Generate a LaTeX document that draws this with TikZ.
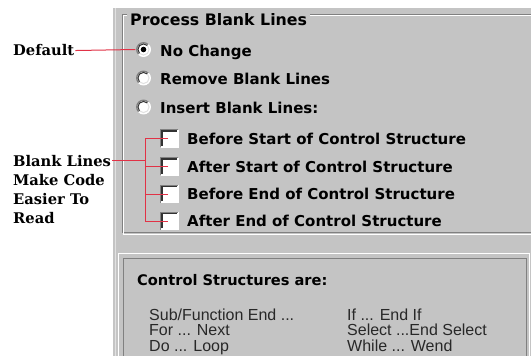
\documentclass[tikz,border=0pt]{standalone}
\usepackage{fontspec}
\setmainfont{DejaVu Sans}
\newfontfamily\dlgfont{DejaVu Sans}
\newfontfamily\lblfont{DejaVu Serif}
\newfontfamily\itmfont{Liberation Sans}
\definecolor{winbg}{RGB}{196,196,196}
\definecolor{shadow}{RGB}{128,128,128}
\definecolor{darkshadow}{RGB}{50,50,50}
\definecolor{lightface}{RGB}{225,225,225}
\definecolor{linkred}{RGB}{225,50,70}
\definecolor{itemgray}{RGB}{40,40,40}
\tikzset{
  dlgtext/.style={font=\dlgfont\bfseries\fontsize{15}{18}\selectfont, inner sep=0pt, anchor=base west, text=black},
  lbltext/.style={font=\lblfont\bfseries\fontsize{14.7}{19}\selectfont, inner sep=0pt, anchor=base west, text=black},
  itmtext/.style={font=\itmfont\fontsize{16}{16}\selectfont, inner sep=0pt, anchor=base west, text=itemgray},
  radiobtn/.style={circle, minimum size=14pt, inner sep=0pt, fill=white},
  checkbx/.style={rectangle, minimum size=17pt, inner sep=0pt, fill=white},
  redline/.style={draw=linkred, line width=1pt},
  etchdark/.style={draw=shadow, line width=1pt},
  etchlight/.style={draw=white, line width=1pt}
}
\begin{document}
\begin{tikzpicture}[x=1pt,y=-1pt]
\useasboundingbox (0,0) rectangle (531,356);
\fill[white] (0,0) rectangle (531,356);
\fill[winbg] (113,8) rectangle (531,356);
\draw[draw=lightface, line width=0.8pt] (115.5,8) -- (115.5,356);

% group box "Process Blank Lines"
\node[dlgtext, font=\dlgfont\bfseries\fontsize{15.8}{18}\selectfont] (title) at (130,25) {Process Blank Lines};
\coordinate (ftl) at (122,14);
\coordinate (fbl) at (122,232);
\coordinate (fbr) at (531,232);
\draw[etchdark] (127,14) -- (ftl) -- (fbl) -- (fbr);
\draw[etchdark] ([xshift=3pt]title.east |- ftl) -- (531,14);
\draw[etchlight] (127,15) -- (123,15) -- (123,234) -- (531,234);
\draw[etchlight] ([xshift=3pt]title.east |- 0,15) -- (531,15);

% radio buttons
\node[radiobtn] (r1) at (143.5,49.5) {};
\node[radiobtn] (r2) at (143.5,78) {};
\node[radiobtn] (r3) at (143.5,107) {};
\foreach \r in {r1,r2,r3}{
  \begin{scope}[y=1pt]
    \draw[shadow, line width=1.3pt] ([shift={(45:6.8)}]\r.center) arc[start angle=45,end angle=225,radius=6.8];
    \draw[white, line width=1.3pt] ([shift={(225:6.8)}]\r.center) arc[start angle=225,end angle=405,radius=6.8];
    \draw[darkshadow, line width=1pt] ([shift={(45:5.6)}]\r.center) arc[start angle=45,end angle=225,radius=5.6];
    \draw[lightface, line width=1pt] ([shift={(225:5.6)}]\r.center) arc[start angle=225,end angle=405,radius=5.6];
  \end{scope}
}
\fill[black] (r1.center) circle[radius=2.8];
\node[dlgtext] (t1) at (160,56.5) {No Change};
\node[dlgtext] (t2) at (160,84.5) {Remove Blank Lines};
\node[dlgtext] (t3) at (160,113) {Insert Blank Lines:};

% check boxes
\node[checkbx] (cb1) at (169.5,138.5) {};
\node[checkbx] (cb2) at (169.5,166.5) {};
\node[checkbx] (cb3) at (169.5,194) {};
\node[checkbx] (cb4) at (169.5,221) {};
\foreach \c in {cb1,cb2,cb3,cb4}{
  \draw[white, line width=1pt] (\c.north east) -- (\c.south east) -- (\c.south west);
  \draw[shadow, line width=1.3pt] (\c.south west) -- (\c.north west) -- (\c.north east);
  \draw[darkshadow, line width=1.3pt] ([xshift=1.3pt,yshift=1.3pt]\c.south west) -- ([xshift=1.3pt,yshift=-1.3pt]\c.north west) -- ([xshift=-1.3pt,yshift=-1.3pt]\c.north east);
}
\node[dlgtext] (c1) at (187,144) {Before Start of Control Structure};
\node[dlgtext] (c2) at (187,172) {After Start of Control Structure};
\node[dlgtext] (c3) at (187,199.5) {Before End of Control Structure};
\node[dlgtext] (c4) at (187,226) {After End of Control Structure};

% left annotations
\node[lbltext] (default) at (13,56) {Default};
\node[lbltext] (bl1) at (13,166) {Blank Lines};
\node[lbltext] (bl2) at (13,185.5) {Make Code};
\node[lbltext] (bl3) at (13,204.5) {Easier To};
\node[lbltext] (bl4) at (13,223.5) {Read};

\draw[redline] ([xshift=1pt]default.east) -- ([xshift=-1pt]r1.west);
\coordinate (spine) at (145,0);
\draw[redline] ([xshift=1pt]bl1.east) -- (bl1.east -| spine);
\draw[redline] ([xshift=-1.5pt]cb1.center) -- (cb1.center -| spine) -- (cb4.center -| spine) -- ([xshift=-1.5pt]cb4.center);
\draw[redline] ([xshift=-1.5pt]cb2.center) -- (cb2.center -| spine);
\draw[redline] ([xshift=-1.5pt]cb3.center) -- (cb3.center -| spine);

% lower panel
\draw[draw=white, line width=1pt] (118,356) -- (118,253) -- (529,253) -- (529,356);
\draw[draw=shadow, line width=1pt] (123,356) -- (123,258) -- (526,258) -- (526,356);
\node[dlgtext, font=\dlgfont\bfseries\fontsize{14.6}{18}\selectfont] (cshead) at (137,285) {Control Structures are:};
\node[itmtext] (i1) at (149,320) {Sub/Function End ...};
\node[itmtext] (i2) at (149,335.5) {For ... Next};
\node[itmtext] (i3) at (149,351.5) {Do ... Loop};
\node[itmtext] (j1) at (347,320) {If ... End If};
\node[itmtext] (j2) at (347,335.5) {Select ...End Select};
\node[itmtext] (j3) at (347,351.5) {While ... Wend};
\end{tikzpicture}
\end{document}
